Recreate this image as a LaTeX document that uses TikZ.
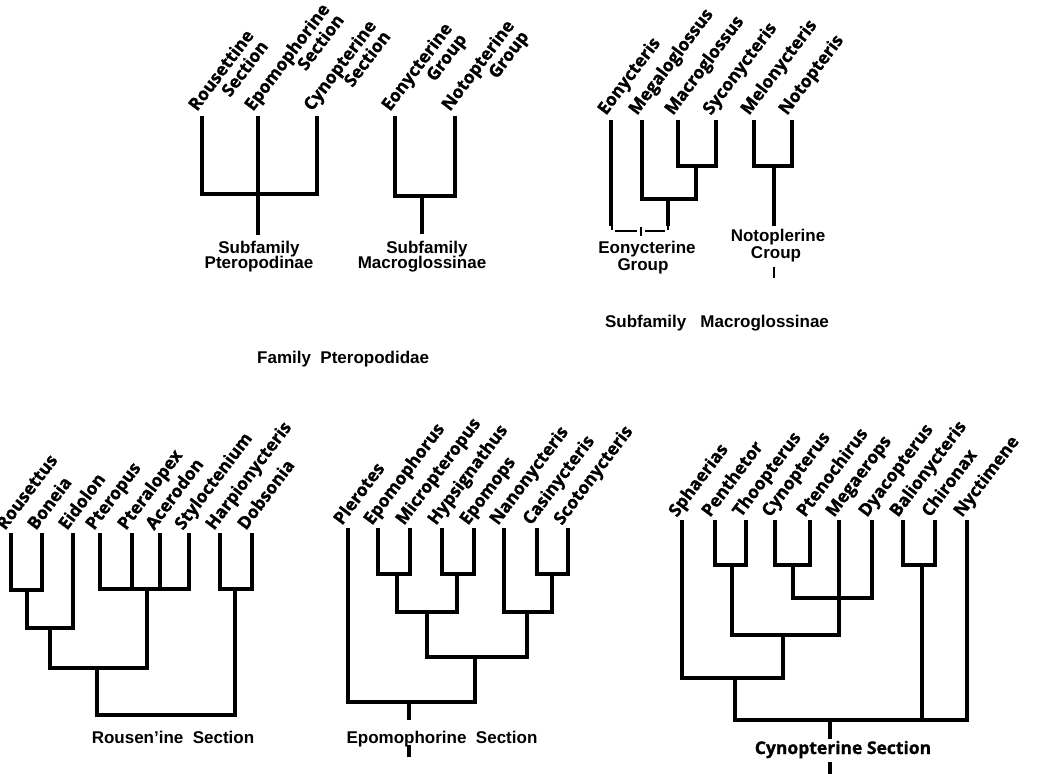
\documentclass[tikz,border=0pt]{standalone}
\usepackage{fontspec}
\setmainfont{Liberation Sans}
\newfontfamily\labfnt{Open Sans}[BoldFeatures={FakeBold=1.2}]
\usetikzlibrary{calc}
\tikzset{
  br/.style={line width=4.2pt, line cap=rect, line join=miter},
  lab/.style={font=\labfnt\bfseries\fontsize{17.5}{19}\selectfont, rotate=53, anchor=base west, inner sep=0pt},
  captxt/.style={font=\bfseries\fontsize{17}{17}\selectfont, anchor=base, inner sep=0pt},
  capo/.style={font=\labfnt\bfseries\fontsize{17.5}{17}\selectfont, anchor=base, inner sep=0pt},
  tickln/.style={line width=1.6pt},
  brk/.style={line width=2.6pt}
}
\begin{document}
\begin{tikzpicture}[x=1pt,y=-1pt]
\useasboundingbox (0,0) rectangle (1037,774);
% ---------- top left: subfamilies ----------
\coordinate (rous) at (202,118);
\coordinate (epom) at (258,118);
\coordinate (cyno) at (317,118);
\coordinate (ptn) at (258,194);
\coordinate (ptb) at (258,233);
\draw[br] (rous) |- (ptn) -| (cyno);
\draw[br] (epom) -- (ptb);
\coordinate (eong) at (395,118);
\coordinate (notg) at (455,118);
\coordinate (mgn) at (422,196);
\coordinate (mgb) at (422,232);
\draw[br] (eong) |- (mgn) -| (notg);
\draw[br] (mgn) -- (mgb);
\node[lab] (t1a) at ($(rous)+(-5,-6)$) {Rousettine};
\node[lab, anchor=base east] (t1b) at ($(t1a.base east)+(14.4,10.8)$) {Section};
\node[lab] (t2a) at ($(epom)+(-5,-6)$) {Epomophorine};
\node[lab, anchor=base east] (t2b) at ($(t2a.base east)+(14.4,10.8)$) {Section};
\node[lab] (t3a) at ($(cyno)+(-5,-6)$) {Cynopterine};
\node[lab, anchor=base east] (t3b) at ($(t3a.base east)+(14.4,10.8)$) {Section};
\node[lab] (t4a) at ($(eong)+(-5,-6)$) {Eonycterine};
\node[lab, anchor=base east] (t4b) at ($(t4a.base east)+(14.4,10.8)$) {Group};
\node[lab] (t5a) at ($(notg)+(-5,-6)$) {Notopterine};
\node[lab, anchor=base east] (t5b) at ($(t5a.base east)+(14.4,10.8)$) {Group};
\node[captxt] (sp1) at (259,253) {Subfamily};
\node[captxt] (sp2) at (259,268) {Pteropodinae};
\node[captxt] (sm1) at (427,253) {Subfamily};
\node[captxt] (sm2) at (422,268) {Macroglossinae};
\node[captxt, anchor=base west] (fam) at (257,363) {Family\ \ Pteropodidae};
% ---------- top right: Macroglossinae ----------
\coordinate (eony) at (611,122);
\coordinate (megl) at (642,122);
\coordinate (macr) at (678,122);
\coordinate (syco) at (716,122);
\coordinate (n1) at (696,166);
\coordinate (n2) at (668,199);
\coordinate (n2b) at (668,224);
\coordinate (eonyb) at (611,224);
\draw[br] (macr) |- (n1) -| (syco);
\draw[br] (megl) |- (n2) -| (n1);
\draw[br] (n2) -- (n2b);
\draw[br] (eony) -- (eonyb);
\coordinate (bl) at (612,231);
\coordinate (bm) at (641,231);
\coordinate (bq) at (668,231);
\draw[brk] ($(bl)+(3,0)$) -- ($(bm)+(-4,0)$);
\draw[brk] ($(bm)+(4,0)$) -- ($(bq)+(-3,0)$);
\draw[tickln] ($(bm)+(0,-4)$) -- ($(bm)+(0,5)$);
\draw[tickln] ($(bl)+(0,-5)$) -- ($(bl)+(0,-1)$);
\draw[tickln] ($(bq)+(0,-5)$) -- ($(bq)+(0,-1)$);
\coordinate (melo) at (754,122);
\coordinate (noto) at (792,122);
\coordinate (n3) at (774,166);
\coordinate (n3b) at (774,224);
\draw[br] (melo) |- (n3) -| (noto);
\draw[br] (n3) -- (n3b);
\coordinate (nt1) at (774,267);
\coordinate (nt2) at (774,278);
\draw[tickln] (nt1) -- (nt2);
\node[lab] (r1) at ($(eony)+(-5,-6)$) {Eonycteris};
\node[lab] (r2) at ($(megl)+(-5,-6)$) {Megaloglossus};
\node[lab] (r3) at ($(macr)+(-5,-6)$) {Macroglossus};
\node[lab] (r4) at ($(syco)+(-5,-6)$) {Syconycteris};
\node[lab] (r5) at ($(melo)+(-5,-6)$) {Melonycteris};
\node[lab] (r6) at ($(noto)+(-5,-6)$) {Notopteris};
\node[captxt] (eg1) at (647,253) {Eonycterine};
\node[captxt] (eg2) at (643,270) {Group};
\node[captxt] (ng1) at (778,241) {Notoplerine};
\node[captxt] (ng2) at (776,258) {Croup};
\node[captxt] (smac) at (717,327) {Subfamily\ \ \ Macroglossinae};
% ---------- bottom left: Rousettine section ----------
\coordinate (rou) at (11,535);
\coordinate (bon) at (42,535);
\coordinate (eid) at (73,535);
\coordinate (pte) at (100,535);
\coordinate (ptx) at (132,535);
\coordinate (ace) at (160,535);
\coordinate (sty) at (189,535);
\coordinate (har) at (220,535);
\coordinate (dob) at (252,535);
\coordinate (a1) at (27,590);
\coordinate (a2) at (50,628);
\coordinate (a3) at (147,589);
\coordinate (a4) at (97,668);
\coordinate (a5) at (235,589);
\coordinate (a6) at (158,715);
\draw[br] (rou) |- (a1) -| (bon);
\draw[br] (a1) |- (a2) -| (eid);
\draw[br] (pte) |- (a3) -| (sty);
\draw[br] (ptx) -- (ptx |- a3);
\draw[br] (ace) -- (ace |- a3);
\draw[br] (a2) |- (a4) -| (a3);
\draw[br] (har) |- (a5) -| (dob);
\draw[br] (a4) |- (a6) -| (a5);
\node[lab] (g1) at ($(rou)+(-6,-4)$) {Rousettus};
\node[lab] (g2) at ($(bon)+(-6,-4)$) {Boneia};
\node[lab] (g3) at ($(eid)+(-6,-4)$) {Eidolon};
\node[lab] (g4) at ($(pte)+(-6,-4)$) {Pteropus};
\node[lab] (g5) at ($(ptx)+(-6,-4)$) {Pteralopex};
\node[lab] (g6) at ($(ace)+(-6,-4)$) {Acerodon};
\node[lab] (g7) at ($(sty)+(-6,-4)$) {Styloctenium};
\node[lab] (g8) at ($(har)+(-6,-4)$) {Harpionycteris};
\node[lab] (g9) at ($(dob)+(-6,-4)$) {Dobsonia};
\node[captxt] (rsec) at (173,743) {Rousen'ine\ \ Section};
% ---------- bottom middle: Epomophorine section ----------
\coordinate (ple) at (348,530);
\coordinate (epm) at (378,530);
\coordinate (mic) at (410,530);
\coordinate (hyp) at (442,530);
\coordinate (eps) at (474,530);
\coordinate (nan) at (504,530);
\coordinate (cas) at (537,530);
\coordinate (sco) at (568,530);
\coordinate (b1) at (397,574);
\coordinate (b2) at (457,574);
\coordinate (b3) at (427,612);
\coordinate (b4) at (552,574);
\coordinate (b5) at (527,612);
\coordinate (b6) at (475,657);
\coordinate (b7) at (409,702);
\coordinate (b7b) at (409,718);
\draw[br] (epm) |- (b1) -| (mic);
\draw[br] (hyp) |- (b2) -| (eps);
\draw[br] (b1) |- (b3) -| (b2);
\draw[br] (cas) |- (b4) -| (sco);
\draw[br] (nan) |- (b5) -| (b4);
\draw[br] (b3) |- (b6) -| (b5);
\draw[br] (ple) |- (b7) -| (b6);
\draw[br] (b7) -- (b7b);
\coordinate (et1) at (409,745);
\coordinate (et2) at (409,757);
\draw[line width=3.6pt] (et1) -- (et2);
\node[lab] (h1) at ($(ple)+(-6,-4)$) {Plerotes};
\node[lab] (h2) at ($(epm)+(-6,-4)$) {Epomophorus};
\node[lab] (h3) at ($(mic)+(-6,-4)$) {Micropteropus};
\node[lab] (h4) at ($(hyp)+(-6,-4)$) {Hypsignathus};
\node[lab] (h5) at ($(eps)+(-6,-4)$) {Epomops};
\node[lab] (h6) at ($(nan)+(-6,-4)$) {Nanonycteris};
\node[lab] (h7) at ($(cas)+(-6,-4)$) {Casinycteris};
\node[lab] (h8) at ($(sco)+(-6,-4)$) {Scotonycteris};
\node[captxt] (esec) at (442,743) {Epomophorine\ \ Section};
% ---------- bottom right: Cynopterine section ----------
\coordinate (sph) at (682,522);
\coordinate (pen) at (715,522);
\coordinate (tho) at (746,522);
\coordinate (cyn) at (775,522);
\coordinate (ptc) at (810,522);
\coordinate (mgr) at (839,522);
\coordinate (dya) at (872,522);
\coordinate (bal) at (903,522);
\coordinate (chi) at (935,522);
\coordinate (nyc) at (967,522);
\coordinate (c1) at (732,565);
\coordinate (c2) at (793,565);
\coordinate (c3) at (839,598);
\coordinate (c4) at (783,635);
\coordinate (c5) at (735,678);
\coordinate (c6) at (922,565);
\coordinate (c7) at (830,720);
\coordinate (c7b) at (830,737);
\draw[br] (pen) |- (c1) -| (tho);
\draw[br] (cyn) |- (c2) -| (ptc);
\draw[br] (c2) |- (c3) -| (dya);
\draw[br] (mgr) -- (c3);
\draw[br] (c1) |- (c4) -| (c3);
\draw[br] (sph) |- (c5) -| (c4);
\draw[br] (bal) |- (c6) -| (chi);
\draw[br] (c5) |- (c7) -| (nyc);
\draw[br] (c6) -- (c6 |- c7);
\draw[br] (c7) -- (c7b);
\coordinate (ct1) at (830,762);
\coordinate (ct2) at (830,774);
\draw[line width=3.6pt] (ct1) -- (ct2);
\node[lab] (k1) at ($(sph)+(-5,-4)$) {Sphaerias};
\node[lab] (k2) at ($(pen)+(-5,-4)$) {Penthetor};
\node[lab] (k3) at ($(tho)+(-5,-4)$) {Thoopterus};
\node[lab] (k4) at ($(cyn)+(-5,-4)$) {Cynopterus};
\node[lab] (k5) at ($(ptc)+(-5,-4)$) {Ptenochirus};
\node[lab] (k6) at ($(mgr)+(-5,-4)$) {Megaerops};
\node[lab] (k7) at ($(dya)+(-5,-4)$) {Dyacopterus};
\node[lab] (k8) at ($(bal)+(-5,-4)$) {Balionycteris};
\node[lab] (k9) at ($(chi)+(-5,-4)$) {Chironax};
\node[lab] (k10) at ($(nyc)+(-5,-4)$) {Nyctimene};
\node[capo] (csec) at (843,754) {Cynopterine Section};
\end{tikzpicture}
\end{document}
